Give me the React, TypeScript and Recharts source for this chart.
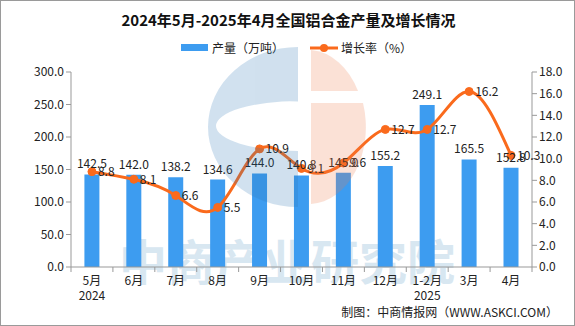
import React from "react";
import {
  ComposedChart,
  Bar,
  Line,
  XAxis,
  YAxis,
  LabelList,
} from "recharts";

const months = ["5月", "6月", "7月", "8月", "9月", "10月", "11月", "12月", "1-2月", "3月", "4月"];
const years = ["2024", "", "", "", "", "", "", "", "2025", "", ""];
const output = [142.5, 142.0, 138.2, 134.6, 144.0, 140.8, 145.0, 155.2, 249.1, 165.5, 152.8];
const growth = [8.8, 8.1, 6.6, 5.5, 10.9, 9.1, 9.6, 12.7, 12.7, 16.2, 10.3];
const leftTicks = [0, 50, 100, 150, 200, 250, 300];
const rightTicks = [0, 2, 4, 6, 8, 10, 12, 14, 16, 18];

const data = months.map((m, i) => ({
  month: m,
  year: years[i],
  output: output[i],
  growth: growth[i],
}));

const W = 575;
const H = 326;
const LEFT = 70;
const RIGHT = 44;
const BAND = (W - LEFT - RIGHT) / months.length;
const FONT = "'Noto Sans CJK SC', sans-serif";
const BLUE = "#3d9cf0";
const ORANGE = "#fa6a1c";

function XTick(props: any) {
  const { x, y, payload, index } = props;
  const yr = years[index];
  return (
    <g>
      <line x1={x - BAND / 2} x2={x - BAND / 2} y1={y - 8} y2={y - 3} stroke="#999" />
      {index === months.length - 1 && (
        <line x1={x + BAND / 2} x2={x + BAND / 2} y1={y - 8} y2={y - 3} stroke="#999" />
      )}
      <text x={x} y={y + 10} textAnchor="middle" fontSize={12} fill="#222" fontFamily={FONT}>
        {payload.value}
      </text>
      {yr && (
        <text x={x} y={y + 25} textAnchor="middle" fontSize={12} fill="#222" fontFamily={FONT}>
          {yr}
        </text>
      )}
    </g>
  );
}

// faint logo laid over the plot, like the watermark in the source image
function Logo() {
  return (
    <svg
      width={W}
      height={H}
      style={{ position: "absolute", left: 0, top: 0, pointerEvents: "none" }}
    >
      <g opacity={0.22}>
        {/* blue left half: half ellipse with a thin white ellipse cut out */}
        <path
          fillRule="evenodd"
          fill="#2f78b4"
          d="M297,46 A90,80 0 0,0 297,206 Z M297,100 A82,25 0 0,0 297,150 Z"
        />
        {/* orange right half with a horizontal gap */}
        <path fill="#ee7a4a" d="M310,49 L310,90 L357,90 A57,77 0 0,0 310,49 Z" />
        <path fill="#ee7a4a" d="M310,102 L362,102 A57,77 0 0,1 310,203 Z" />
      </g>
    </svg>
  );
}

export default function App() {
  return (
    <div
      style={{
        position: "absolute",
        left: 0,
        top: 0,
        width: W,
        height: H,
        boxSizing: "border-box",
        border: "1px solid #9a9a9a",
        background: "#fff",
        fontFamily: FONT,
        overflow: "hidden",
      }}
    >
      <div
        style={{
          position: "absolute",
          left: 0,
          top: 8,
          width: W,
          textAlign: "center",
          fontSize: 15,
          fontWeight: "bold",
          color: "#111",
        }}
      >
        2024年5月-2025年4月全国铝合金产量及增长情况
      </div>
      <div
        style={{
          position: "absolute",
          left: 180,
          top: 38,
          fontSize: 12,
          color: "#222",
          display: "flex",
          alignItems: "center",
        }}
      >
        <span style={{ display: "inline-block", width: 27, height: 7, background: BLUE, marginRight: 4 }} />
        <span>产量（万吨）</span>
        <svg width={28} height={10} style={{ marginLeft: 26, marginRight: 3 }}>
          <line x1={0} x2={28} y1={5} y2={5} stroke={ORANGE} strokeWidth={3} />
          <circle cx={14} cy={5} r={4} fill={ORANGE} />
        </svg>
        <span>增长率（%）</span>
      </div>
      <div
        style={{
          position: "absolute",
          left: 118,
          top: 234,
          fontSize: 48,
          lineHeight: 1,
          fontWeight: "bold",
          color: "#d8e7f1",
          whiteSpace: "nowrap",
        }}
      >
        中商产业研究院
      </div>
      <div style={{ position: "absolute", left: 0, top: 0 }}>
        <ComposedChart
          width={W}
          height={H}
          data={data}
          margin={{ top: 71, right: 0, bottom: 0, left: 0 }}
          barCategoryGap="32%"
        >
          <XAxis
            dataKey="month"
            height={60}
            interval={0}
            tick={<XTick />}
            tickLine={false}
            axisLine={{ stroke: "#999" }}
          />
          <YAxis
            yAxisId="left"
            width={LEFT}
            domain={[0, 300]}
            ticks={leftTicks}
            interval={0}
            tickFormatter={(v: number) => v.toFixed(1)}
            tick={{ fontSize: 12, fill: "#222", fontFamily: FONT }}
            tickLine={{ stroke: "#999" }}
            tickSize={5}
            axisLine={{ stroke: "#999" }}
          />
          <YAxis
            yAxisId="right"
            orientation="right"
            width={RIGHT}
            domain={[0, 18]}
            ticks={rightTicks}
            interval={0}
            tickFormatter={(v: number) => v.toFixed(1)}
            tick={{ fontSize: 12, fill: "#222", fontFamily: FONT }}
            tickLine={{ stroke: "#999" }}
            tickSize={5}
            axisLine={{ stroke: "#999" }}
          />
          <Bar yAxisId="left" dataKey="output" fill={BLUE} isAnimationActive={false}>
            <LabelList
              dataKey="output"
              position="top"
              offset={6}
              formatter={(v: any) => Number(v).toFixed(1)}
              style={{ fontSize: 12, fill: "#222", fontFamily: FONT }}
            />
          </Bar>
          <Line
            yAxisId="right"
            dataKey="growth"
            type="natural"
            stroke={ORANGE}
            strokeWidth={3}
            dot={{ r: 4, fill: ORANGE, stroke: ORANGE, strokeWidth: 1 }}
            isAnimationActive={false}
          >
            <LabelList
              dataKey="growth"
              position="right"
              offset={6}
              formatter={(v: any) => Number(v).toFixed(1)}
              style={{ fontSize: 12, fill: "#222", fontFamily: FONT }}
            />
          </Line>
        </ComposedChart>
      </div>
      <Logo />
      <div
        style={{
          position: "absolute",
          right: 16,
          top: 302,
          fontSize: 12,
          color: "#222",
        }}
      >
        制图：中商情报网（WWW.ASKCI.COM）
      </div>
    </div>
  );
}
